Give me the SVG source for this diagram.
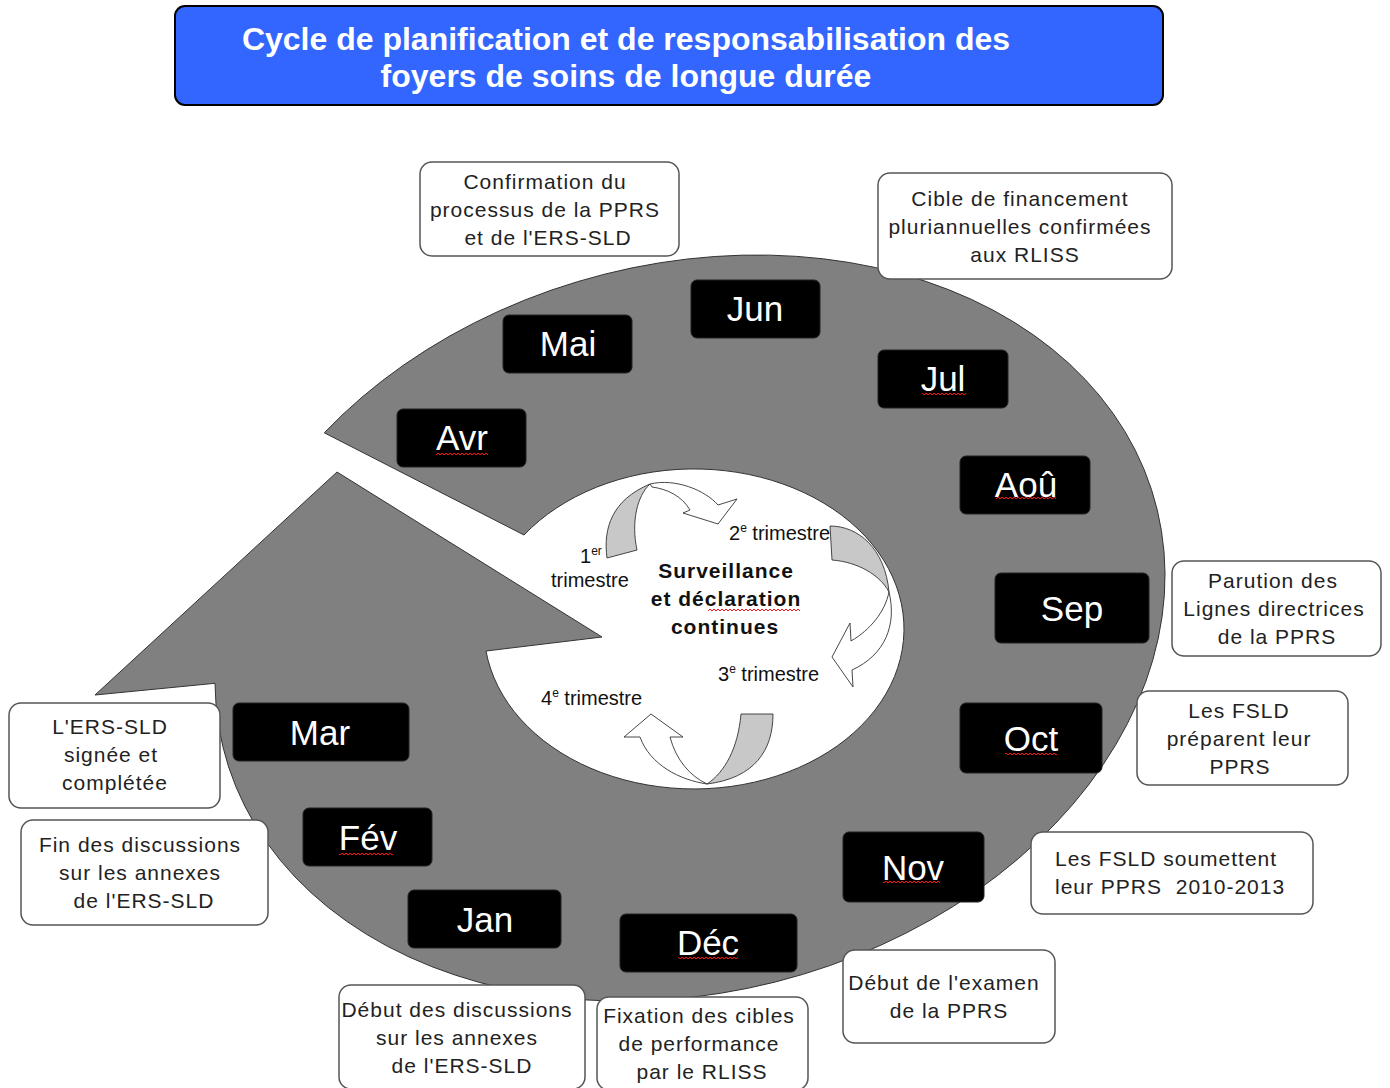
<svg xmlns="http://www.w3.org/2000/svg" width="1390" height="1088" viewBox="0 0 1390 1088">
<style>
.m rect{fill:#000;stroke:#222;stroke-width:1}
.m text{fill:#fff;font-family:"Liberation Sans",Arial,sans-serif;font-size:35px;text-anchor:middle}
.c rect{fill:#fff;stroke:#555;stroke-width:1.5}
.c text{fill:#222;font-family:"Liberation Sans",Arial,sans-serif;font-size:21px;letter-spacing:1px;text-anchor:middle}
.c text.l{text-anchor:start}
.q{fill:#111;font-family:"Liberation Sans",Arial,sans-serif;font-size:20px}
.ctr{fill:#111;font-family:"Liberation Sans",Arial,sans-serif;font-size:21px;font-weight:bold;letter-spacing:1px;text-anchor:middle}
.wa{fill:#fff;stroke:#333;stroke-width:0.9}
.ga{fill:#c8c8c8;stroke:#333;stroke-width:0.9}
.m rect.sq,.sq{fill:url(#wv);stroke:none}
</style>
<defs>
<pattern id="wv" width="4" height="4" patternUnits="userSpaceOnUse"><path d="M0,3 L2,1 L4,3" fill="none" stroke="#ff1010" stroke-width="1"/></pattern>
</defs>
<rect width="1390" height="1088" fill="#fff"/>

<g id="cycle">
<path d="M324.3,432.8 A482,364 -15 1 1 215,683.3 L95,695 L337,472 L602,637 L486,651 A210,160 0 1 0 524,535 Z" fill="#808080" stroke="#333" stroke-width="1"/>
</g>

<g id="connectors">
<path class="ga" d="M607,558 C603,528 612,500 650,484 C637,496 631,522 637,550 Z"/>
<path class="wa" d="M650,484 C675,478 705,490 718,505 L737,499 L718,524 L683,513 L690,510 C682,496 667,489 652,487 Z"/>
<path class="ga" d="M830,526 C858,526 885,548 889,592 C880,575 858,562 832,560 Z"/>
<path class="wa" d="M889,592 C897,625 885,655 852,670 L853,687 L832,657 L850,623 L851,641 C870,630 885,612 889,592 Z"/>
<path class="ga" d="M741,714 L773,714 C773,750 755,778 707,784 C725,772 738,748 741,714 Z"/>
<path class="wa" d="M707,784 C680,780 650,765 640,737 L624,737 L651,714 L683,737 L670,737 C676,760 690,776 707,784 Z"/>
</g>

<g id="center-label">
<text class="ctr" x="726" y="578">Surveillance</text>
<text class="ctr" x="726" y="606">et déclaration</text>
<text class="ctr" x="725" y="634">continues</text>
<rect class="sq" x="708" y="608" width="92" height="4"/>
</g>

<g id="quarters">
<text class="q" x="580" y="563">1<tspan dy="-8" font-size="12">er</tspan></text>
<text class="q" x="551" y="587">trimestre</text>
<text class="q" x="729" y="540">2<tspan dy="-8" font-size="12">e</tspan><tspan dy="8"> trimestre</tspan></text>
<text class="q" x="718" y="681">3<tspan dy="-8" font-size="12">e</tspan><tspan dy="8"> trimestre</tspan></text>
<text class="q" x="541" y="705">4<tspan dy="-8" font-size="12">e</tspan><tspan dy="8"> trimestre</tspan></text>
</g>

<g id="m-avr" class="m"><rect x="397" y="409" width="129" height="58" rx="6"/><text x="462" y="450">Avr</text><rect class="sq" x="436" y="452" width="52" height="4"/></g>
<g id="m-mai" class="m"><rect x="503" y="315" width="129" height="58" rx="6"/><text x="568" y="356">Mai</text></g>
<g id="m-jun" class="m"><rect x="691" y="280" width="129" height="58" rx="6"/><text x="755" y="321">Jun</text></g>
<g id="m-jul" class="m"><rect x="878" y="350" width="130" height="58" rx="6"/><text x="943" y="391">Jul</text><rect class="sq" x="922" y="392" width="44" height="4"/></g>
<g id="m-aou" class="m"><rect x="960" y="456" width="130" height="58" rx="6"/><text x="1026" y="497">Aoû</text><rect class="sq" x="996" y="496" width="60" height="4"/></g>
<g id="m-sep" class="m"><rect x="995" y="573" width="154" height="70" rx="6"/><text x="1072" y="621">Sep</text></g>
<g id="m-oct" class="m"><rect x="960" y="703" width="142" height="70" rx="6"/><text x="1031" y="751">Oct</text><rect class="sq" x="1005" y="752" width="52" height="4"/></g>
<g id="m-nov" class="m"><rect x="843" y="832" width="141" height="70" rx="6"/><text x="913" y="880">Nov</text><rect class="sq" x="883" y="880" width="57" height="4"/></g>
<g id="m-dec" class="m"><rect x="620" y="914" width="177" height="58" rx="6"/><text x="708" y="955">Déc</text><rect class="sq" x="678" y="956" width="60" height="4"/></g>
<g id="m-jan" class="m"><rect x="408" y="890" width="153" height="58" rx="6"/><text x="485" y="932">Jan</text></g>
<g id="m-fev" class="m"><rect x="303" y="808" width="129" height="58" rx="6"/><text x="368" y="850">Fév</text><rect class="sq" x="339" y="852" width="54" height="4"/></g>
<g id="m-mar" class="m"><rect x="233" y="703" width="176" height="58" rx="6"/><text x="320" y="745">Mar</text></g>

<g id="n-confirmation" class="c"><rect x="420" y="162" width="259" height="94" rx="12"/>
<text x="545" y="189">Confirmation du</text><text x="545" y="217">processus de la PPRS</text><text x="548" y="245">et de l'ERS-SLD</text></g>
<g id="n-cible" class="c"><rect x="878" y="173" width="294" height="106" rx="12"/>
<text x="1020" y="206">Cible de financement</text><text x="1020" y="234">pluriannuelles confirmées</text><text x="1025" y="262">aux RLISS</text></g>
<g id="n-parution" class="c"><rect x="1172" y="561" width="209" height="95" rx="12"/>
<text x="1273" y="588">Parution des</text><text x="1274" y="616">Lignes directrices</text><text x="1277" y="644">de la PPRS</text></g>
<g id="n-preparent" class="c"><rect x="1137" y="691" width="211" height="94" rx="12"/>
<text x="1239" y="718">Les FSLD</text><text x="1239" y="746">préparent leur</text><text x="1240" y="774">PPRS</text></g>
<g id="n-soumettent" class="c"><rect x="1031" y="832" width="282" height="82" rx="12"/>
<text class="l" x="1055" y="866">Les FSLD soumettent</text><text class="l" x="1055" y="894">leur PPRS&#160; 2010-2013</text></g>
<g id="n-examen" class="c"><rect x="843" y="950" width="212" height="93" rx="12"/>
<text x="944" y="990">Début de l'examen</text><text x="949" y="1018">de la PPRS</text></g>
<g id="n-fixation" class="c"><rect x="597" y="997" width="211" height="93" rx="12"/>
<text x="699" y="1023">Fixation des cibles</text><text x="699" y="1051">de performance</text><text x="702" y="1079">par le RLISS</text></g>
<g id="n-debut-disc" class="c"><rect x="339" y="985" width="246" height="104" rx="12"/>
<text x="457" y="1017">Début des discussions</text><text x="457" y="1045">sur les annexes</text><text x="462" y="1073">de l'ERS-SLD</text></g>
<g id="n-signee" class="c"><rect x="9" y="703" width="211" height="105" rx="12"/>
<text x="110" y="734">L'ERS-SLD</text><text x="111" y="762">signée et</text><text x="115" y="790">complétée</text></g>
<g id="n-fin-disc" class="c"><rect x="21" y="820" width="247" height="105" rx="12"/>
<text x="140" y="852">Fin des discussions</text><text x="140" y="880">sur les annexes</text><text x="144" y="908">de l'ERS-SLD</text></g>

<g id="title">
<rect x="175" y="6" width="988" height="99" rx="10" fill="#3366ff" stroke="#000" stroke-width="2"/>
<text x="626" y="50" fill="#fff" font-family="'Liberation Sans',Arial,sans-serif" font-size="32" font-weight="bold" text-anchor="middle">Cycle de planification et de responsabilisation des</text>
<text x="626" y="87" fill="#fff" font-family="'Liberation Sans',Arial,sans-serif" font-size="32" font-weight="bold" text-anchor="middle">foyers de soins de longue durée</text>
</g>
</svg>
